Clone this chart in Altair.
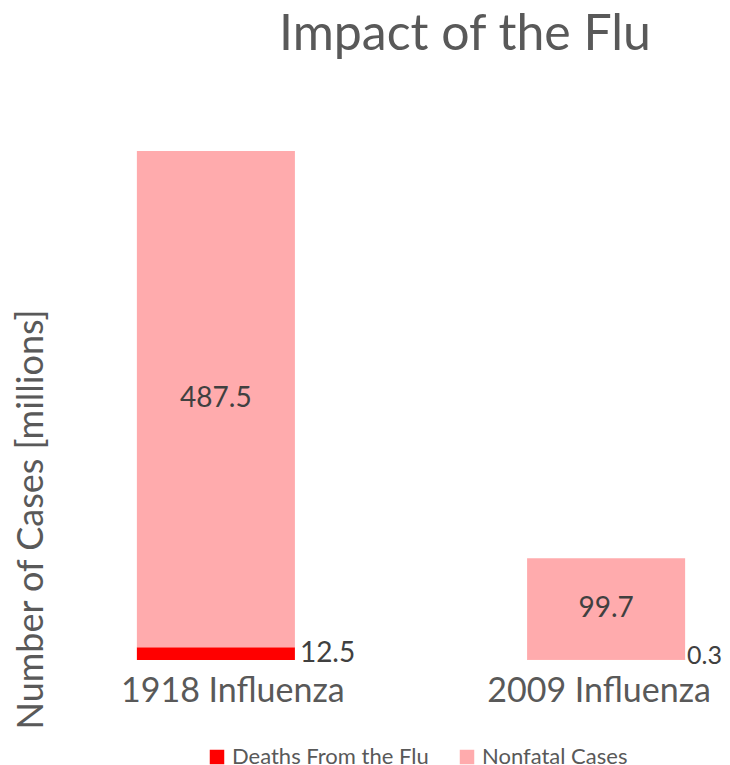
import altair as alt
import pandas as pd

categories = ["1918 Influenza", "2009 Influenza"]
series = ["Deaths From the Flu", "Nonfatal Cases"]
deaths = [12.5, 0.3]
nonfatal = [487.5, 99.7]
colors = ["#FF0000", "#FFABAD"]

rows = []
for c, d, n in zip(categories, deaths, nonfatal):
    rows.append({"cat": c, "series": series[0], "value": d, "start": 0.0, "end": d, "mid": d / 2})
    rows.append({"cat": c, "series": series[1], "value": n, "start": d, "end": d + n, "mid": d + n / 2})
df = pd.DataFrame(rows)

FONT = "Lato"

xscale = alt.Scale(paddingInner=0.595, paddingOuter=0.156, align=0.73)
yscale = alt.Scale(domain=[0, 500], nice=False, zero=True)

base = alt.Chart(df)

bars = base.mark_bar().encode(
    x=alt.X("cat:N", sort=categories, scale=xscale,
            axis=alt.Axis(title=None, labelAngle=0, ticks=False, domain=False,
                          labelFontSize=34, labelColor="#595959", labelFont=FONT,
                          labelPadding=14, labelLimit=0,
                          labelOffset={"condition": {"test": "datum.value == '1918 Influenza'", "value": 17},
                                       "value": -7})),
    y=alt.Y("start:Q", scale=yscale,
            axis=alt.Axis(title="Number of Cases [millions]", labels=False, ticks=False,
                          domain=False, grid=False, titleFontSize=36, titleFont=FONT,
                          titleFontWeight="normal", titleColor="#595959",
                          titleX=-17, titleY=368, titleAngle=270, titleBaseline="middle",
                          titleAlign="center", titleLimit=0)),
    y2="end:Q",
    color=alt.Color("series:N", sort=series,
                    scale=alt.Scale(domain=series, range=colors),
                    legend=alt.Legend(title=None, orient="none", direction="horizontal",
                                      legendX=158, legendY=595, symbolType="square",
                                      symbolSize=210, symbolStrokeWidth=0,
                                      labelFontSize=22, labelFont=FONT, labelColor="#595959",
                                      labelOffset=4, columnPadding=27, padding=0,
                                      labelLimit=0)),
    order=alt.Order("start:Q"),
)

inner = base.transform_filter(alt.datum.series == series[1]).mark_text(
    fontSize=28, font=FONT, color="#404040", baseline="middle", align="center"
).encode(
    x=alt.X("cat:N", sort=categories, scale=xscale),
    y=alt.Y("mid:Q", scale=yscale),
    text=alt.Text("value:Q", format=".1f"),
)

outer1 = base.transform_filter(
    (alt.datum.series == series[0]) & (alt.datum.cat == categories[0])
).mark_text(
    fontSize=28, font=FONT, color="#404040", baseline="middle", align="left", dx=84
).encode(
    x=alt.X("cat:N", sort=categories, scale=xscale),
    y=alt.Y("mid:Q", scale=yscale),
    text=alt.Text("value:Q", format=".1f"),
)

outer2 = base.transform_filter(
    (alt.datum.series == series[0]) & (alt.datum.cat == categories[1])
).mark_text(
    fontSize=25, font=FONT, color="#404040", baseline="middle", align="left", dx=81, dy=-4
).encode(
    x=alt.X("cat:N", sort=categories, scale=xscale),
    y=alt.Y("mid:Q", scale=yscale),
    text=alt.Text("value:Q", format=".1f"),
)

chart = alt.layer(bars, inner, outer1, outer2).properties(
    width=670,
    height=509,
    title=alt.TitleParams("Impact of the Flu", fontSize=50, font=FONT, color="#595959",
                          fontWeight="normal", anchor="middle", dx=82, offset=91,
                          frame="group"),
    autosize=alt.AutoSizeParams(type="none"),
    padding={"left": 40, "top": 143, "right": 4, "bottom": 110},
).configure(background="white", view=alt.ViewConfig(stroke=None))

chart.save("out.html", embed_options={"renderer": "svg", "actions": False})
